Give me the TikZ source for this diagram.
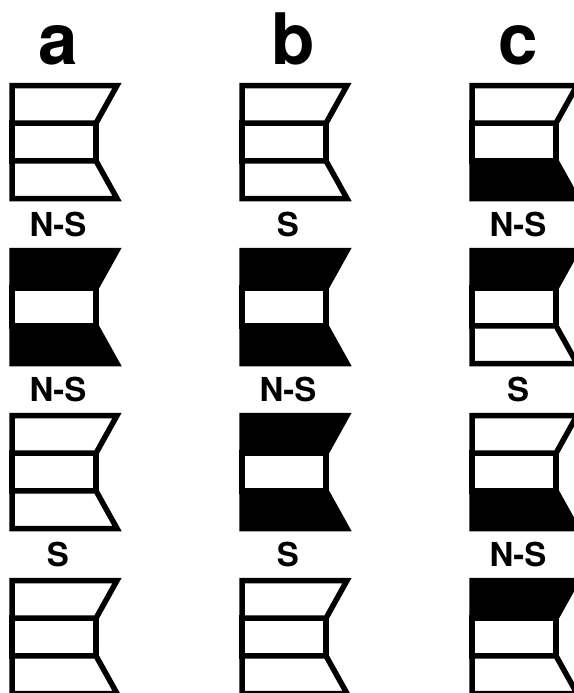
\documentclass[tikz,border=0pt]{standalone}
\usepackage{fontspec}
\setmainfont{TeX Gyre Heros}

\tikzset{
  magnet/.style={line width=5.5pt, line join=miter, draw=black},
  pole/.style={font=\fontsize{33}{33}\selectfont\bfseries, anchor=base},
  colhead/.style={font=\fontsize{71}{71}\selectfont\bfseries, anchor=base},
}

% #1 = linker Rand, #2 = Oberkante, #3 = Fuellung oben, #4 = Fuellung unten
\newcommand{\drawmagnet}[4]{%
  % mittleres Segment
  \filldraw[magnet, fill=white] (#1,#2+37.7) -- (#1+84,#2+37.7)
    -- (#1+84,#2+75.3) -- (#1,#2+75.3) -- cycle;
  % oberes Segment
  \filldraw[magnet, fill=#3] (#1,#2) -- (#1+105,#2)
    -- (#1+84,#2+37.7) -- (#1,#2+37.7) -- cycle;
  % unteres Segment
  \filldraw[magnet, fill=#4] (#1,#2+75.3) -- (#1+84,#2+75.3)
    -- (#1+105,#2+113) -- (#1,#2+113) -- cycle;
}

\begin{document}
\begin{tikzpicture}[x=1pt, y=-1pt]
  \useasboundingbox (0,0) rectangle (573,693);

  % Spaltenkoepfe:
  \node[colhead] (head-a) at (58,65) {a};
  \node[colhead] (head-b) at (293,65) {b};
  \node[colhead] (head-c) at (518,65) {c};

  % Magnete (Spalte/Reihe/oben/unten):
  \foreach \col/\row/\top/\bot in {
      0/0/white/white, 0/1/black/black, 0/2/white/white, 0/3/white/white,
      1/0/white/white, 1/1/black/black, 1/2/black/black, 1/3/white/white,
      2/0/white/black, 2/1/black/white, 2/2/white/black, 2/3/black/white}
    \drawmagnet{12+230*\col}{85.5+165*\row}{\top}{\bot};

  % Pole zwischen den Reihen:
  \foreach \col/\row/\txt in {
      0/0/N-S, 0/1/N-S, 0/2/S,
      1/0/S, 1/1/N-S, 1/2/S,
      2/0/N-S, 2/1/S, 2/2/N-S}
    \node[pole] (pole-\col-\row) at (58+230*\col,236+165*\row) {\txt};
\end{tikzpicture}
\end{document}
